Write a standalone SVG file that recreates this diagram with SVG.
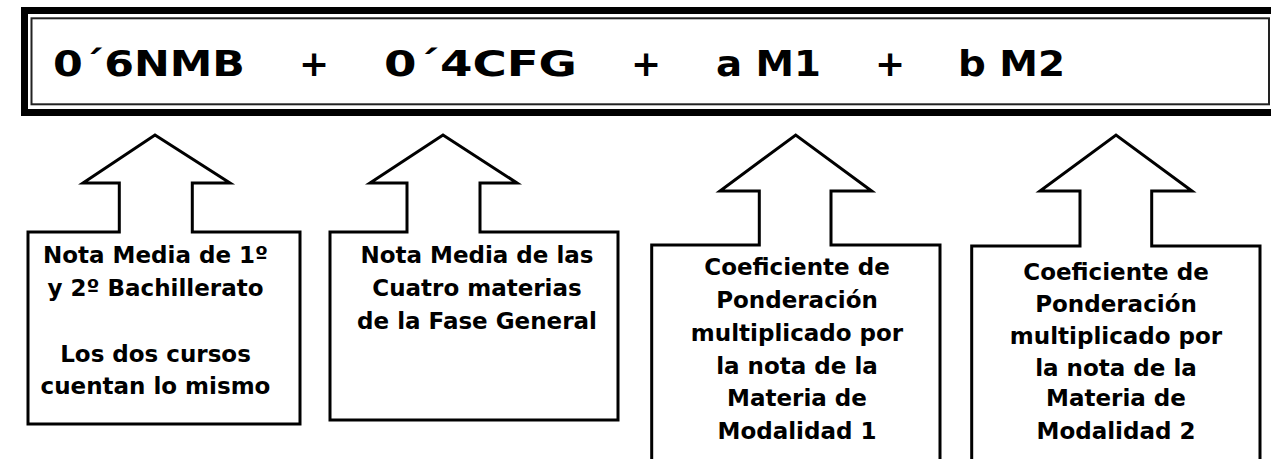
<svg xmlns="http://www.w3.org/2000/svg" width="1271" height="459" viewBox="0 0 1271 459">
<style>
.shape{fill:#fff;stroke:#000;stroke-width:3;stroke-linejoin:miter}
.lbl{font-family:"DejaVu Sans","Liberation Sans",sans-serif;font-weight:bold;font-size:23px;text-anchor:middle;fill:#000}
.head{font-family:"DejaVu Sans","Liberation Sans",sans-serif;font-weight:bold;font-size:36px;fill:#000}
</style>
<rect width="1271" height="459" fill="#fff"/>
<g id="formula">
<rect x="24.5" y="10.5" width="1260" height="102" fill="#fff" stroke="#000" stroke-width="7"/>
<rect x="31.5" y="18.3" width="1237.5" height="86" fill="none" stroke="#222" stroke-width="2"/>
<text class="head" x="53" y="76" textLength="192" lengthAdjust="spacingAndGlyphs">0´6NMB</text>
<text class="head" x="314" y="76" text-anchor="middle">+</text>
<text class="head" x="384" y="76" textLength="193" lengthAdjust="spacingAndGlyphs">0´4CFG</text>
<text class="head" x="646" y="76" text-anchor="middle">+</text>
<text class="head" x="716" y="76" textLength="105" lengthAdjust="spacingAndGlyphs">a M1</text>
<text class="head" x="890" y="76" text-anchor="middle">+</text>
<text class="head" x="958" y="76" textLength="107" lengthAdjust="spacingAndGlyphs">b M2</text>
</g>
<g id="node1">
<path class="shape" d="M28,232 H119.3 V183 H83 L155,135 L230,183 H192.3 V232 H300 V424 H28 Z"/>
<text class="lbl" x="155.5" y="263.3">Nota Media de 1º</text>
<text class="lbl" x="155.5" y="296">y 2º Bachillerato</text>
<text class="lbl" x="155.5" y="361.5">Los dos cursos</text>
<text class="lbl" x="155.5" y="394">cuentan lo mismo</text>
</g>
<g id="node2">
<path class="shape" d="M330,232 H407 V183 H370 L443,135 L517,183 H480 V232 H618 V420 H330 Z"/>
<text class="lbl" x="477" y="263.3">Nota Media  de las</text>
<text class="lbl" x="477" y="296">Cuatro materias</text>
<text class="lbl" x="477" y="329">de la Fase General</text>
</g>
<g id="node3">
<path class="shape" d="M651.7,470 V245 H759.3 V191 H720 L795.7,135 L871.7,191 H831 V245 H940 V470"/>
<text class="lbl" x="797" y="275">Coeficiente de</text>
<text class="lbl" x="797" y="308">Ponderación</text>
<text class="lbl" x="797" y="341">multiplicado por</text>
<text class="lbl" x="797" y="374">la nota de la</text>
<text class="lbl" x="797" y="406">Materia de</text>
<text class="lbl" x="797" y="439">Modalidad 1</text>
</g>
<g id="node4">
<path class="shape" d="M971.7,470 V246 H1080 V191 H1040 L1116,135 L1192,191 H1151.7 V246 H1260 V470"/>
<text class="lbl" x="1116" y="280">Coeficiente de</text>
<text class="lbl" x="1116" y="312">Ponderación</text>
<text class="lbl" x="1116" y="344">multiplicado por</text>
<text class="lbl" x="1116" y="376">la nota de la</text>
<text class="lbl" x="1116" y="406">Materia de</text>
<text class="lbl" x="1116" y="439">Modalidad 2</text>
</g>
<g id="connectors"></g>
</svg>
